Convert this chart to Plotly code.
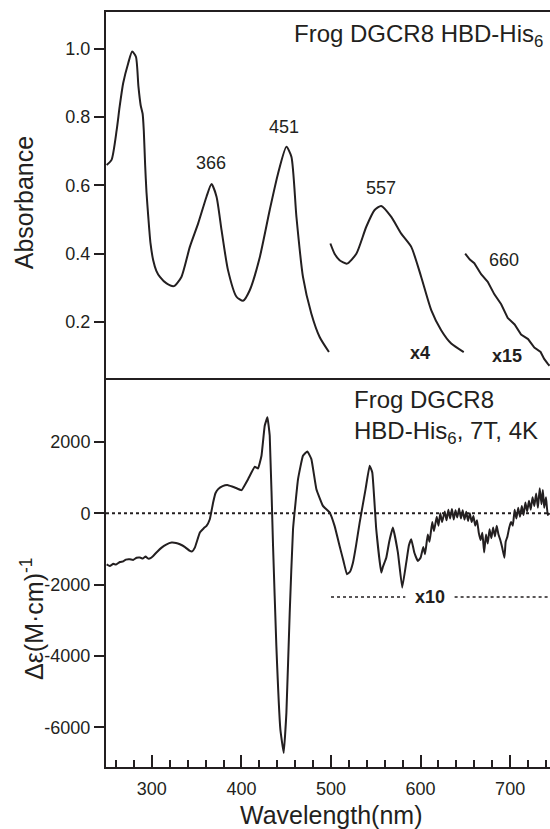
import plotly.graph_objects as go
from plotly.subplots import make_subplots

# ---------------- data ----------------
abs_wl_main = [249.5, 255, 260.7, 264, 268, 273.6, 278, 282.2, 285, 287.5, 289.7, 291, 292.5, 294, 296,
               298.5, 301.5, 305, 309, 316.4, 324.6, 333, 342.4, 351.7, 361, 366.6, 372.2, 377.8, 385,
               394.5, 401.8, 409.3, 420.5, 431.6, 440.9, 450.2, 455.8, 461.4, 468.7, 478, 487.3, 497.7]
abs_val_main = [0.66, 0.675, 0.762, 0.83, 0.90, 0.958, 0.992, 0.977, 0.89, 0.835, 0.81, 0.76, 0.66, 0.58,
                0.508, 0.43, 0.381, 0.35, 0.332, 0.313, 0.305, 0.332, 0.42, 0.489, 0.567, 0.604, 0.567,
                0.469, 0.352, 0.274, 0.262, 0.293, 0.39, 0.528, 0.635, 0.713, 0.684, 0.508, 0.332, 0.225,
                0.156, 0.112]

abs_wl_x4 = [499.3, 504, 509.6, 517.8, 528.3, 539.4, 548.7, 556, 567.3, 578.4, 589.6, 600.7, 611.9, 623,
             634.2, 648.2]
abs_val_x4 = [0.43, 0.40, 0.381, 0.371, 0.40, 0.479, 0.528, 0.54, 0.508, 0.459, 0.42, 0.332, 0.235, 0.176,
              0.137, 0.112]

abs_wl_x15 = [649.8, 655, 660, 667.6, 675, 682.4, 690, 697.3, 705, 712.2, 720, 727, 734, 738, 741.9, 744]
abs_val_x15 = [0.40, 0.383, 0.372, 0.340, 0.318, 0.281, 0.252, 0.212, 0.193, 0.163, 0.150, 0.125, 0.112,
               0.092, 0.078, 0.072]

cd_wl = [249.5, 253, 257, 260, 264.4, 268, 271, 275.5, 279, 283, 286.7, 290, 293, 296, 298.5, 301.5, 306,
         310.9, 316, 322, 327, 331.3, 337, 342.4, 345, 348, 353.6, 358, 361, 364.7, 368.4, 371, 374, 379,
         385.1, 392.6, 400.1, 407.4, 414.9, 418.6, 422.4, 426, 429, 431.6, 435.3, 439, 443.5, 447.2, 450.2,
         453.9, 457.6, 463.2, 468.7, 473.6, 478.1, 483.7, 491, 498.5, 504, 509.6, 514, 517.8, 521, 524.5,
         528, 532, 538.6, 543.1, 546.1, 550.5, 556.1, 558, 561.7, 565, 569.1, 574.7, 579.5, 584, 587, 589.6,
         593, 597,
         600, 603, 605, 608, 610, 613, 615, 618, 620, 622, 624, 627, 629, 631, 633, 635, 637, 639, 641, 643,
         645, 647, 649, 651, 653, 655, 657, 659, 661, 663, 665, 667, 669, 671, 673, 675, 677, 679, 681, 683,
         685, 687, 689, 691, 693.6, 695, 697, 699, 701, 703, 705, 707, 709, 711, 713, 715, 717, 719, 721,
         723, 725, 727, 729, 731, 733, 735, 736.5, 738, 740, 742, 744]
cd_val = [-1433, -1480, -1420, -1440, -1367, -1350, -1300, -1292, -1310, -1250, -1245, -1270, -1215, -1273,
          -1260, -1198, -1080, -965, -880, -824, -835, -871, -950, -1058, -1070, -965, -543, -420, -356,
          -169, 300, 560, 674, 760, 786, 721, 646, 955, 1301, 1255, 1610, 2452, 2688, 2171, -918, -3727,
          -6067, -6722, -5598, -2789, -449, 955, 1610, 1732, 1517, 674, 206, 19, -356, -918, -1350, -1713,
          -1650, -1386, -900, -262, 674, 1329, 1142, -449, -1666, -1500, -1250, -800, -402, -1104, -2088,
          -1386, -900, -730, -1100, -1339,
          -1250, -950, -1150, -600, -800, -250, -500, -100, -350, 0, -250, 50, -200, 100, -150, 120, -180,
          80, -120, 130, -150, 80, -180, 40, -220, 0, -250, -80, -350, -200, -550, -750, -550, -1100, -600,
          -850, -450, -700, -400, -650, -350, -600, -750, -950, -1250, -800, -650, -400, -250, -350, 100,
          -150, 150, -100, 200, -50, 300, 50, 350, 100, 450, 200, 550, 150, 700, 250, 650, 150, 450, -50, 0]

x10_wl_left = [500, 583]
x10_wl_right = [638, 745]
x10_level = -2350

peak_labels = ["366", "451", "557", "660"]
peak_x = [366, 448, 556, 693.6]
peak_y = [0.666, 0.771, 0.592, 0.381]

abs_ticks = [0.2, 0.4, 0.6, 0.8, 1.0]
abs_ticktext = ["0.2", "0.4", "0.6", "0.8", "1.0"]
cd_ticks = [-6000, -4000, -2000, 0, 2000]
cd_ticktext = ["-6000", "-4000", "-2000", "0", "2000"]
wl_ticks = [300, 400, 500, 600, 700]

X_RANGE = [248.8, 744.5]
INK = "#231f20"
FONT = "Liberation Sans, Arial, Helvetica, sans-serif"

fig = make_subplots(rows=2, cols=1, shared_xaxes=True, vertical_spacing=0,
                    row_heights=[366, 389])

line_style = dict(color=INK, width=2)
fig.add_trace(go.Scatter(x=abs_wl_main, y=abs_val_main, mode="lines",
                         line=dict(shape="spline", smoothing=0.6, **line_style)), row=1, col=1)
fig.add_trace(go.Scatter(x=abs_wl_x4, y=abs_val_x4, mode="lines",
                         line=dict(shape="spline", smoothing=0.6, **line_style)), row=1, col=1)
fig.add_trace(go.Scatter(x=abs_wl_x15, y=abs_val_x15, mode="lines",
                         line=dict(shape="linear", **line_style)), row=1, col=1)

# zero line and x10 marker lines
fig.add_trace(go.Scatter(x=X_RANGE, y=[0, 0], mode="lines",
                         line=dict(color=INK, width=2, dash="dot")), row=2, col=1)
fig.add_trace(go.Scatter(x=x10_wl_left, y=[x10_level, x10_level], mode="lines",
                         line=dict(color=INK, width=1.6, dash="dot")), row=2, col=1)
fig.add_trace(go.Scatter(x=x10_wl_right, y=[x10_level, x10_level], mode="lines",
                         line=dict(color=INK, width=1.6, dash="dot")), row=2, col=1)
fig.add_trace(go.Scatter(x=cd_wl, y=cd_val, mode="lines",
                         line=dict(shape="spline", smoothing=0.3, **line_style)), row=2, col=1)

for lab, px, py in zip(peak_labels, peak_x, peak_y):
    fig.add_annotation(x=px, y=py, xref="x", yref="y", text=lab, showarrow=False,
                       xanchor="center", yanchor="middle",
                       font=dict(size=18, color=INK, family=FONT))

fig.add_annotation(x=598.8, y=0.108, xref="x", yref="y", text="<b>x4</b>", showarrow=False,
                   xanchor="center", yanchor="middle", font=dict(size=18, color=INK, family=FONT))
fig.add_annotation(x=697, y=0.10, xref="x", yref="y", text="<b>x15</b>", showarrow=False,
                   xanchor="center", yanchor="middle", font=dict(size=18, color=INK, family=FONT))
fig.add_annotation(x=610, y=x10_level, xref="x2", yref="y2", text="<b>x10</b>", showarrow=False,
                   xanchor="center", yanchor="middle", font=dict(size=18, color=INK, family=FONT))

fig.add_annotation(x=0.989, y=0.969, xref="paper", yref="paper", xanchor="right", yanchor="middle",
                   text="Frog DGCR8 HBD-His<sub>6</sub>", showarrow=False,
                   font=dict(size=24, color=INK, family=FONT))
fig.add_annotation(x=0.554, y=0.463, xref="paper", yref="paper", xanchor="left", yanchor="middle",
                   align="left", text="Frog DGCR8<br>HBD-His<sub>6</sub>, 7T, 4K", showarrow=False,
                   font=dict(size=24, color=INK, family=FONT))

# axis titles
fig.add_annotation(x=-0.1847, y=0.748, xref="paper", yref="paper", text="Absorbance",
                   xanchor="center", yanchor="middle",
                   textangle=-90, showarrow=False, font=dict(size=25, color=INK, family=FONT))
fig.add_annotation(x=-0.165, y=0.197, xref="paper", yref="paper", text="Δε(M·cm)<sup>-1</sup>",
                   xanchor="center", yanchor="middle",
                   textangle=-90, showarrow=False, font=dict(size=25, color=INK, family=FONT))
fig.add_annotation(x=0.507, y=-0.0636, xref="paper", yref="paper", text="Wavelength(nm)",
                   xanchor="center", yanchor="middle",
                   showarrow=False, font=dict(size=25, color=INK, family=FONT))

fig.update_xaxes(range=X_RANGE, showgrid=False, zeroline=False, showline=True, linewidth=2,
                 linecolor=INK)
fig.update_xaxes(row=1, col=1, mirror=True, ticks="", showticklabels=False)
fig.update_xaxes(row=2, col=1, ticks="inside", tickvals=wl_ticks, ticklen=12, tickwidth=2,
                 tickcolor=INK, tickfont=dict(size=18, color=INK, family=FONT),
                 ticklabelstandoff=4,
                 minor=dict(dtick=20, tick0=0, ticks="inside", ticklen=7, tickwidth=2, tickcolor=INK))
fig.update_yaxes(showgrid=False, zeroline=False, showline=True, linewidth=2, linecolor=INK,
                 ticks="outside", ticklen=10, tickwidth=2, tickcolor=INK,
                 tickfont=dict(size=18, color=INK, family=FONT))
fig.update_yaxes(row=1, col=1, range=[0.036, 1.108], tickvals=abs_ticks, ticktext=abs_ticktext)
fig.update_yaxes(row=2, col=1, range=[-7115, 3790], tickvals=cd_ticks, ticktext=cd_ticktext)

fig.update_layout(width=550, height=829, margin=dict(l=106, r=0, t=12, b=62),
                  paper_bgcolor="white", plot_bgcolor="white", showlegend=False,
                  font=dict(family=FONT, color=INK))

fig.write_html("out.html", config={"displayModeBar": False},
               post_script="document.body.style.margin='0px';document.body.style.overflow='hidden';")
